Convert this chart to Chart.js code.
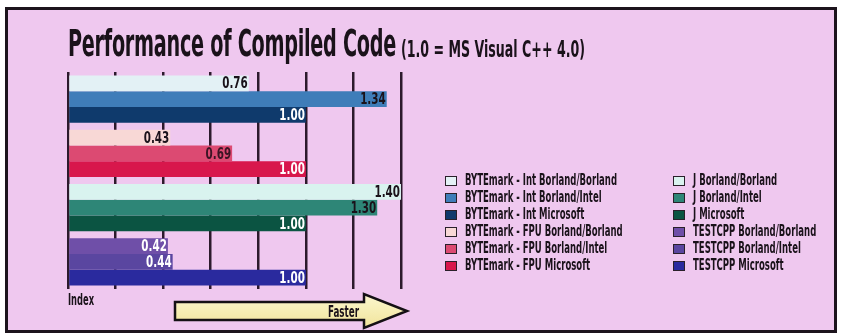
<!DOCTYPE html>
<html>
<head>
<meta charset="utf-8">
<title>Performance of Compiled Code</title>
<script src="https://cdn.jsdelivr.net/npm/chart.js@4.4.1/dist/chart.umd.min.js"></script>
<style>
    html, body { margin: 0; padding: 0; background: #ffffff; }
    body { width: 842px; height: 335px; position: relative; overflow: hidden;
           font-family: "Liberation Sans Narrow", "DejaVu Sans Condensed", "Roboto", sans-serif; font-weight: bold; color: #1a121a; }
    #frame { position: absolute; left: 5px; top: 7px; width: 826px; height: 320px;
             border: 3px solid #1c141c; background: #efc8ef; }
    #chart { position: absolute; left: 0; top: 0; }
    .fit { position: absolute; white-space: nowrap; transform-origin: 0 0; display: inline-block; }
    #title { left: 68px; top: 21px; font-size: 38px; letter-spacing: -0.5px; }
    #subtitle { left: 401px; top: 36px; font-size: 23px; }
    #index { left: 68px; top: 291px; font-size: 15px; }
    #legend .item { position: absolute; height: 16px; }
    #legend .box { position: absolute; top: 3px; width: 10px; height: 8px; border: 1.5px solid #2a202a; }
    #legend .txt { position: absolute; left: 20px; top: -2px; font-size: 15px; white-space: nowrap; transform-origin: 0 0; }
    #arrow { position: absolute; left: 173px; top: 292px; }
</style>
</head>
<body>
<div id="frame"></div>
<canvas id="chart" width="842" height="335"></canvas>
<div id="title" class="fit">Performance of Compiled Code</div>
<div id="subtitle" class="fit">(1.0 = MS Visual C++ 4.0)</div>
<div id="index" class="fit">Index</div>
<div id="legend"></div>
<svg id="arrow" width="240" height="38" viewBox="0 0 240 38">
    <defs>
        <linearGradient id="yel" x1="0" y1="0" x2="0" y2="1">
            <stop offset="0" stop-color="#fbf7cf"/>
            <stop offset="1" stop-color="#f1e49a"/>
        </linearGradient>
    </defs>
    <path d="M2,10 L191,10 L191,2 L234,19 L191,36 L191,28 L2,28 Z" fill="url(#yel)" stroke="#141014" stroke-width="2.5" stroke-linejoin="miter"/>
    <text x="155" y="25" textLength="31" lengthAdjust="spacingAndGlyphs" font-size="15" font-weight="bold"
          font-family="Liberation Sans Narrow, DejaVu Sans Condensed, sans-serif" fill="#1a121a">Faster</text>
</svg>
<script>
const FONT = '"Liberation Sans Narrow", "DejaVu Sans Condensed", "Roboto", sans-serif';

// data
const categories = ["BYTEmark - Int", "BYTEmark - FPU", "J", "TESTCPP"];
const compilers = ["Borland/Borland", "Borland/Intel", "Microsoft"];
const intValues = [0.76, 1.34, 1.00];
const fpuValues = [0.43, 0.69, 1.00];
const jValues = [1.40, 1.30, 1.00];
const testcppValues = [0.42, 0.44, 1.00];
const xTicks = [0, 0.2, 0.4, 0.6, 0.8, 1.0, 1.2, 1.4];

// styles, one per bar, same order as the legend
const barColors = [
    "#e3f1f5", "#3f7db9", "#0f3a6c",
    "#f8d8d6", "#dc4a72", "#d8174c",
    "#d9f3ef", "#2e8677", "#0b5442",
    "#6f4fa8", "#5a46a0", "#2a2a9e"
];
const labelColors = [
    "#1a121a", "#1a121a", "#ffffff",
    "#1a121a", "#3a1424", "#ffffff",
    "#1a121a", "#1a121a", "#ffffff",
    "#ffffff", "#ffffff", "#ffffff"
];

const groups = [intValues, fpuValues, jValues, testcppValues];
const datasets = [];
groups.forEach((vals, g) => {
    vals.forEach((v, k) => {
        const data = categories.map((c, i) => (i === g ? v : null));
        datasets.push({
            label: categories[g] + " " + compilers[k],
            data: data,
            backgroundColor: barColors[datasets.length],
            borderWidth: 0,
            skipNull: true,
            barPercentage: 1.0,
            categoryPercentage: 0.875
        });
    });
});

// value at the end of each bar, narrow like the original type
const valueLabels = {
    id: "valueLabels",
    afterDatasetsDraw(chart) {
        const ctx = chart.ctx;
        ctx.save();
        ctx.font = "bold 16px " + FONT;
        ctx.textAlign = "right";
        ctx.textBaseline = "middle";
        chart.data.datasets.forEach((ds, i) => {
            const meta = chart.getDatasetMeta(i);
            meta.data.forEach((bar, j) => {
                const v = ds.data[j];
                if (v === null || v === undefined) return;
                ctx.save();
                ctx.translate(bar.x - 1, bar.y + 1);
                ctx.scale(0.72, 1);
                ctx.fillStyle = labelColors[i];
                ctx.fillText(v.toFixed(2), 0, 0);
                ctx.restore();
            });
        });
        ctx.restore();
    }
};

new Chart(document.getElementById("chart"), {
    type: "bar",
    data: { labels: categories, datasets: datasets },
    options: {
        indexAxis: "y",
        responsive: false,
        animation: false,
        layout: { padding: { left: 68, right: 441, top: 72, bottom: 46 } },
        plugins: {
            legend: { display: false },
            tooltip: { enabled: false }
        },
        scales: {
            x: {
                min: 0,
                max: 1.4,
                afterBuildTicks: (scale) => { scale.ticks = xTicks.map(v => ({ value: v })); },
                ticks: { display: false },
                grid: { color: "#2c1a2c", lineWidth: 2.5, drawTicks: false },
                border: { display: false }
            },
            y: { display: false }
        }
    },
    plugins: [valueLabels]
});

// legend in two columns, built from the dataset labels
const legend = document.getElementById("legend");
datasets.forEach((ds, i) => {
    const col = i < 6 ? 0 : 1;
    const row = i % 6;
    const item = document.createElement("div");
    item.className = "item";
    item.style.left = (col === 0 ? 445 : 673) + "px";
    item.style.top = (173 + row * 17) + "px";
    item.innerHTML = `<span class="box" style="background:${ds.backgroundColor}"></span><span class="txt">${ds.label}</span>`;
    legend.appendChild(item);
});

// squeeze the condensed type to the widths seen in the picture
function fitWidth(el, w) {
    const natural = el.getBoundingClientRect().width;
    el.style.transform = `scaleX(${w / natural})`;
}
fitWidth(document.getElementById("title"), 328);
fitWidth(document.getElementById("subtitle"), 184);
fitWidth(document.getElementById("index"), 26);
const txts = document.querySelectorAll("#legend .txt");
const k = 152 / txts[0].getBoundingClientRect().width;
txts.forEach(t => { t.style.transform = `scaleX(${k})`; });
</script>
</body>
</html>
